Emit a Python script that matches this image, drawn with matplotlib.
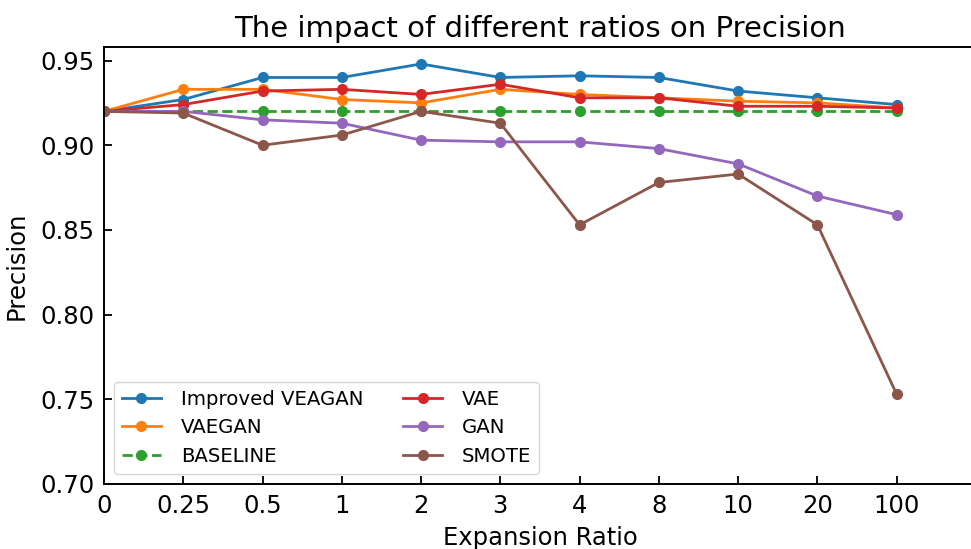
import matplotlib

matplotlib.use("Agg")
import matplotlib.pyplot as plt

ratios = ["0", "0.25", "0.5", "1", "2", "3", "4", "8", "10", "20", "100"]

improved_veagan = [0.920, 0.927, 0.940, 0.940, 0.948, 0.940, 0.941, 0.940, 0.932, 0.928, 0.924]
vaegan = [0.920, 0.933, 0.933, 0.927, 0.925, 0.933, 0.930, 0.928, 0.926, 0.925, 0.922]
baseline = [0.920] * 11
vae = [0.920, 0.924, 0.932, 0.933, 0.930, 0.936, 0.928, 0.928, 0.923, 0.923, 0.922]
gan = [0.920, 0.920, 0.915, 0.913, 0.903, 0.902, 0.902, 0.898, 0.889, 0.870, 0.859]
smote = [0.920, 0.919, 0.900, 0.906, 0.920, 0.913, 0.853, 0.878, 0.883, 0.853, 0.753]

series = [
    ("Improved VEAGAN", improved_veagan, "-"),
    ("VAEGAN", vaegan, "-"),
    ("BASELINE", baseline, "--"),
    ("VAE", vae, "-"),
    ("GAN", gan, "-"),
    ("SMOTE", smote, "-"),
]

fig = plt.figure(figsize=(9.71, 5.49), dpi=100)
ax = fig.add_axes([0.1071, 0.1184, 0.898, 0.796])

xs = range(len(ratios))
for name, vals, ls in series:
    ax.plot(xs, vals, ls, marker="o", lw=2, ms=7, label=name)

ax.set_xticks(list(xs))
ax.set_xticklabels(ratios)
ax.set_xlim(0, 11)
ax.set_ylim(0.70, 0.958)
ax.set_yticks([0.70, 0.75, 0.80, 0.85, 0.90, 0.95])
ax.tick_params(direction="in", length=6, width=1.3, labelsize=17.5, pad=7)
for sp in ax.spines.values():
    sp.set_linewidth(1.4)

ax.set_xlabel("Expansion Ratio", fontsize=17.5, labelpad=6)
ax.set_ylabel("Precision", fontsize=17.5, labelpad=8)
ax.set_title("The impact of different ratios on Precision", fontsize=21, pad=7)
ax.legend(loc="lower left", ncol=2, fontsize=14.2, columnspacing=2.0,
          handletextpad=1.0, markerscale=1.0)

fig.savefig("out.png", dpi=100)
